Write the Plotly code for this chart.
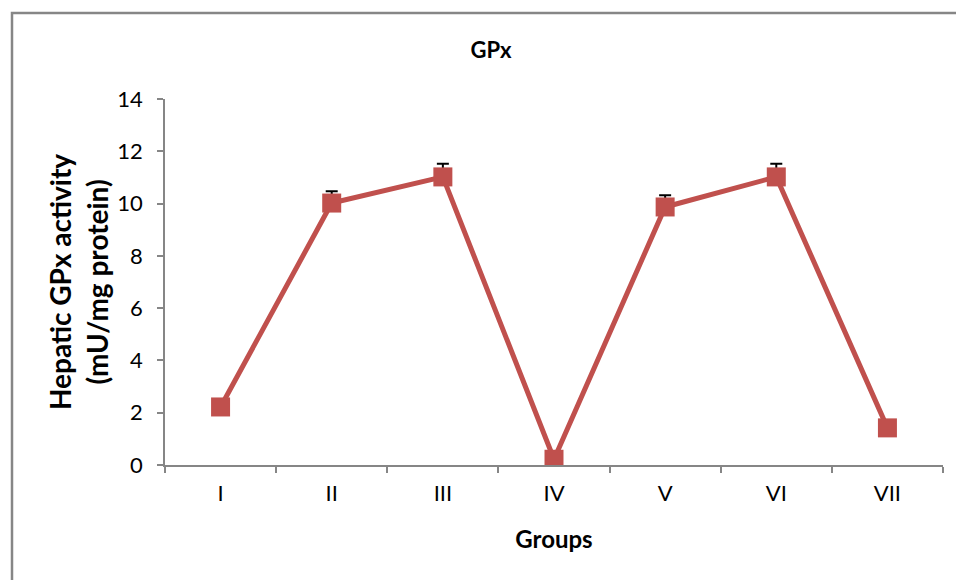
import plotly.graph_objects as go

groups = ["I", "II", "III", "IV", "V", "VI", "VII"]
gpx = [2.22, 10.02, 11.02, 0.22, 9.87, 11.02, 1.42]
err = [0.1, 0.45, 0.5, 0.05, 0.45, 0.5, 0.05]
y_ticks = [0, 2, 4, 6, 8, 10, 12, 14]

FONT = "Lato"
L, R, T, B = 165, 13, 99, 115
W, H = 956, 580
pw, ph = W - L - R, H - T - B

fig = go.Figure()
fig.add_trace(go.Scatter(
    x=groups, y=gpx, mode="lines+markers",
    line=dict(color="#C0504D", width=5),
    marker=dict(symbol="square", size=19, color="#C0504D"),
    error_y=dict(type="data", array=err, symmetric=False, arrayminus=[0]*7,
                 color="black", thickness=2, width=6),
    showlegend=False,
))

fig.update_layout(
    width=W, height=H,
    margin=dict(l=L, r=R, t=T, b=B),
    paper_bgcolor="white", plot_bgcolor="white",
    font=dict(family=FONT, color="black"),
    title=dict(text="<b>GPx</b>", x=491 / W, xanchor="center",
               y=1 - 50 / H, yanchor="middle", font=dict(size=22, family=FONT)),
    xaxis=dict(
        type="category", range=[-0.5, 6.5], tickson="boundaries",
        ticks="outside", ticklen=6, tickcolor="#868686", tickwidth=1.5,
        showline=True, linecolor="#868686", linewidth=1.5, showgrid=False,
        tickfont=dict(size=22, family=FONT), ticklabelstandoff=8,
        title=dict(text="<b>Groups</b>", font=dict(size=24, family=FONT), standoff=26),
    ),
    yaxis=dict(
        range=[0, 14], tickvals=y_ticks, ticks="outside", ticklen=6,
        tickcolor="#868686", tickwidth=1.5,
        showline=True, linecolor="#868686", linewidth=1.5, showgrid=False,
        zeroline=False, tickfont=dict(size=22, family=FONT), ticklabelstandoff=10,
        title=dict(text="<b>Hepatic GPx activity<br>(mU/mg protein)</b>",
                   font=dict(size=28, family=FONT), standoff=1),
    ),
    shapes=[dict(type="rect", xref="paper", yref="paper",
                 x0=(12 - L) / pw, x1=1.2, y0=-0.5, y1=(H - B - 13) / ph,
                 line=dict(color="#868686", width=2.5), layer="below")],
)

fig.write_html("out.html", config={"displayModeBar": False},
               post_script="document.body.style.margin='0';document.body.style.overflow='hidden';")
